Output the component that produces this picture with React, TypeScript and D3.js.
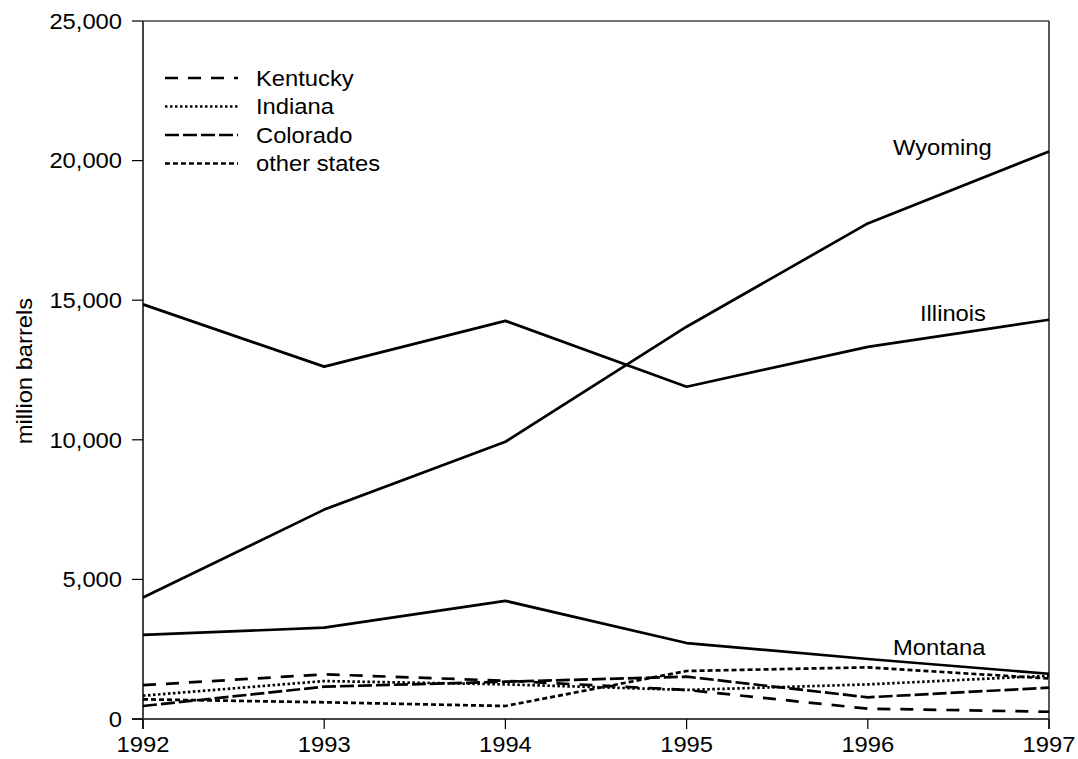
import React from "react";
import * as d3 from "d3";

const years = [1992, 1993, 1994, 1995, 1996, 1997];
const yTicks = [0, 5000, 10000, 15000, 20000, 25000];

const wyoming = [4350, 7500, 9930, 14050, 17750, 20330];
const illinois = [14850, 12620, 14260, 11900, 13330, 14300];
const montana = [3010, 3270, 4230, 2720, 2150, 1620];
const kentucky = [1210, 1600, 1370, 1040, 370, 260];
const indiana = [835, 1360, 1240, 1040, 1240, 1550];
const colorado = [466, 1157, 1336, 1516, 777, 1122];
const otherStates = [705, 598, 466, 1720, 1850, 1450];

const seriesNames = ["Wyoming", "Illinois", "Montana", "Kentucky", "Indiana", "Colorado", "other states"];
const legendNames = ["Kentucky", "Indiana", "Colorado", "other states"];

const FONT = "'Liberation Sans', Arial, Helvetica, sans-serif";
const SX = 1.08;

function T(props: { x: number; y: number; anchor?: string; rotate?: number; size: number; children: React.ReactNode }) {
  const { x, y, anchor = "start", rotate = 0, size, children } = props;
  return (
    <text
      transform={`translate(${x},${y}) rotate(${rotate}) scale(${SX},1)`}
      textAnchor={anchor}
      dy="0.35em"
      fontSize={size}
      fill="#000"
    >
      {children}
    </text>
  );
}

export default function App() {
  const W = 1078, H = 759;
  const left = 143, right = 1049, top = 21, bottom = 719;
  const x = d3.scaleLinear().domain([1992, 1997]).range([left, right]);
  const y = d3.scaleLinear().domain([0, 25000]).range([bottom, top]);
  const line = d3.line<number>().x((_, i) => x(years[i])).y((d) => y(d));

  const dashes: Record<string, string | undefined> = {
    Wyoming: undefined,
    Illinois: undefined,
    Montana: undefined,
    Kentucky: "13,10",
    Indiana: "2.5,2.5",
    Colorado: "14,4",
    "other states": "5,3",
  };
  const data: Record<string, number[]> = {
    Wyoming: wyoming,
    Illinois: illinois,
    Montana: montana,
    Kentucky: kentucky,
    Indiana: indiana,
    Colorado: colorado,
    "other states": otherStates,
  };
  const axisColor = "#444";
  const fs = 22;

  return (
    <svg width={W} height={H} style={{ position: "absolute", left: 0, top: 0, background: "#fff" }} fontFamily={FONT}>
      <rect x={0} y={0} width={W} height={H} fill="#fff" />
      <line x1={left} x2={right} y1={top} y2={top} stroke={axisColor} strokeWidth={1.5} />
      <line x1={right} x2={right} y1={top} y2={bottom + 10} stroke="#222" strokeWidth={1.5} />
      <line x1={left} x2={left} y1={top} y2={bottom + 10} stroke={axisColor} strokeWidth={2} />
      <line x1={left - 11} x2={right} y1={bottom} y2={bottom} stroke={axisColor} strokeWidth={2} />
      {yTicks.map((t) => (
        <g key={t}>
          <line x1={left - 11} x2={left} y1={y(t)} y2={y(t)} stroke="#000" strokeWidth={1.2} />
          <T x={left - 21} y={y(t)} anchor="end" size={fs}>{d3.format(",")(t)}</T>
        </g>
      ))}
      {years.map((yr) => (
        <g key={yr}>
          <line x1={x(yr)} x2={x(yr)} y1={bottom} y2={bottom + 10} stroke="#000" strokeWidth={1.2} />
          <T x={x(yr)} y={bottom + 25} anchor="middle" size={fs}>{yr}</T>
        </g>
      ))}
      <T x={24} y={371} anchor="middle" rotate={-90} size={fs}>million barrels</T>
      {seriesNames.map((n) => (
        <path
          key={n}
          d={line(data[n]) || ""}
          fill="none"
          stroke="#000"
          strokeWidth={2.7}
          strokeDasharray={dashes[n]}
          strokeLinejoin="round"
        />
      ))}
      <T x={893} y={147} size={fs}>Wyoming</T>
      <T x={920} y={313} size={fs}>Illinois</T>
      <T x={893} y={647} size={fs}>Montana</T>
      {legendNames.map((n, i) => {
        const ly = 78 + i * 28.5;
        return (
          <g key={n}>
            <line x1={165} x2={238} y1={ly} y2={ly} stroke="#000" strokeWidth={2.6} strokeDasharray={dashes[n]} />
            <T x={256} y={ly} size={fs}>{n}</T>
          </g>
        );
      })}
    </svg>
  );
}
